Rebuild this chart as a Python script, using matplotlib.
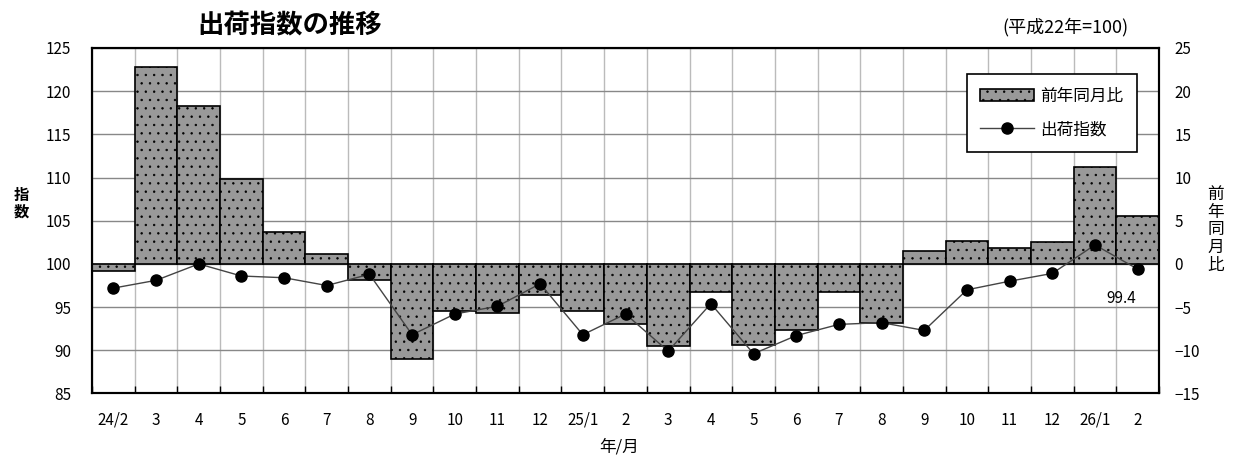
import matplotlib
matplotlib.use('Agg')
import matplotlib.pyplot as plt
import numpy as np

plt.rcParams['font.family'] = ['Noto Sans CJK JP', 'DejaVu Sans']
plt.rcParams['hatch.linewidth'] = 0.5

# data
months = ['24/2', '3', '4', '5', '6', '7', '8', '9', '10', '11', '12',
          '25/1', '2', '3', '4', '5', '6', '7', '8', '9', '10', '11', '12',
          '26/1', '2']
# shipment index (left axis)
index_vals = [97.2, 98.1, 100.0, 98.6, 98.4, 97.5, 98.8, 91.8, 94.2, 95.1, 97.7,
              91.8, 94.2, 89.9, 95.4, 89.6, 91.7, 93.0, 93.2, 92.3, 97.0, 98.0, 98.9,
              102.2, 99.4]
# year-on-year change % (right axis)
yoy_vals = [-0.8, 22.8, 18.3, 9.8, 3.7, 1.2, -1.9, -11.0, -5.5, -5.7, -3.6,
            -5.4, -7.0, -9.5, -3.3, -9.4, -7.7, -3.3, -6.8, 1.5, 2.7, 1.8, 2.5,
            11.2, 5.5]
left_ticks = [85, 90, 95, 100, 105, 110, 115, 120, 125]
right_ticks = [-15, -10, -5, 0, 5, 10, 15, 20, 25]

x = np.arange(len(months))

fig = plt.figure(figsize=(12.34, 4.57), dpi=100)
ax = fig.add_axes([0.0746, 0.139, 0.8646, 0.756])
ax2 = ax.twinx()

# bars on the right axis, drawn underneath the index line
ax.set_zorder(ax2.get_zorder() + 1)
ax.patch.set_visible(False)
bars = ax2.bar(x, yoy_vals, width=1.0, color='#999999', edgecolor='black',
               linewidth=1.2, hatch='..', label='前年同月比', zorder=2)
ax2.set_ylim(-15, 25)
ax2.set_yticks(right_ticks)
ax2.set_axisbelow(True)

# grid lives on ax2 so the bars cover it
ax.set_xlim(-0.5, len(months) - 0.5)
ax.set_xticks(x)
ax.set_xticks(np.arange(len(months) + 1) - 0.5, minor=True)
ax.set_xticklabels(months)
ax2.xaxis.set_visible(True)
ax2.tick_params(axis='x', which='both', labelbottom=False, length=0)
ax2.grid(axis='y', color='#888888', linewidth=1.0)
ax2.grid(axis='x', which='minor', color='#bbbbbb', linewidth=1.0)

line, = ax.plot(x, index_vals, color='#444444', linewidth=1.0, marker='o',
                markersize=8, markerfacecolor='black', markeredgecolor='black',
                label='出荷指数')
ax.set_ylim(85, 125)
ax.set_yticks(left_ticks)

ax.tick_params(axis='x', which='major', length=0, pad=13, labelsize=11)
ax.tick_params(axis='x', which='minor', length=5, direction='in', width=1)
ax.tick_params(axis='y', length=0, pad=15, labelsize=11)
ax2.tick_params(axis='y', length=0, pad=11, labelsize=11)
for a in (ax, ax2):
    for s in a.spines.values():
        s.set_linewidth(1.5)

ax.annotate('99.4', xy=(x[-1], index_vals[-1]), xytext=(-12, -21),
            textcoords='offset points', ha='center', va='center', fontsize=11)

leg = ax.legend([bars, line], ['前年同月比', '出荷指数'], loc='upper right',
                bbox_to_anchor=(0.987, 0.948), fontsize=12, frameon=True,
                fancybox=False, framealpha=1, edgecolor='black',
                handlelength=3.2, handletextpad=0.4, borderpad=0.8,
                labelspacing=1.0)
leg.get_frame().set_linewidth(1.2)

fig.text(0.235, 0.943, '出荷指数の推移', fontsize=19, fontweight='bold',
         ha='center', va='center')
fig.text(0.863, 0.94, '(平成22年=100)', fontsize=13, ha='center', va='center')
fig.text(0.017, 0.555, '指\n数', fontsize=11, fontweight='bold', ha='center',
         va='center', linespacing=1.0)
fig.text(0.985, 0.497, '前\n年\n同\n月\n比', fontsize=12, ha='center',
         va='center', linespacing=1.05)
fig.text(0.502, 0.022, '年/月', fontsize=12, ha='center', va='center')

fig.savefig('out.png', dpi=100)
